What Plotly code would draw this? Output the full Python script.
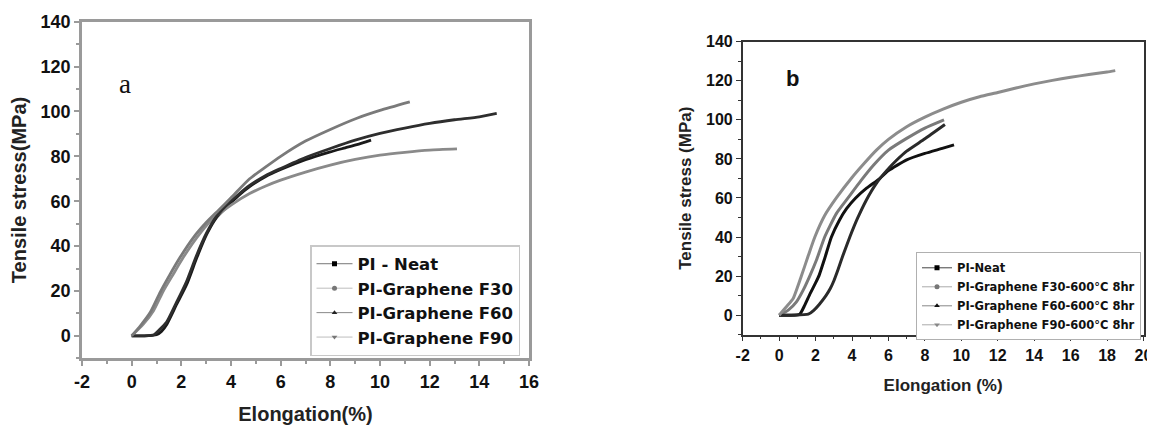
import plotly.graph_objects as go

# page is 1155x425; the HTML body adds an 8px margin, so the figure is sized to fit
PAGE_OFF = 8
W, H = 1155 - PAGE_OFF, 425 - PAGE_OFF

# ---------------- Panel a data ----------------
neat_a_x = [0, 0.5, 1.0, 1.2, 1.42, 1.82, 2.22, 2.63, 3.03, 3.43, 3.83, 4.3, 4.75, 5.4, 6.0, 7.0, 8.0, 8.6, 9.07, 9.64]
neat_a_y = [0, 0, 0.5, 2.0, 5.2, 14.2, 23.0, 35.0, 45.4, 52.9, 57.5, 62.5, 66.5, 71.0, 74.1, 78.5, 82.0, 83.8, 85.2, 87.2]

f30_a_x = [0, 0.47, 0.88, 1.28, 1.68, 2.08, 2.63, 3.16, 3.6, 4.03, 4.75, 5.4, 6.0, 7.0, 8.0, 9.0, 10.0, 11.0, 12.0, 13.1]
f30_a_y = [0, 5.2, 11.2, 20.1, 27.6, 35.0, 43.9, 51.0, 55.0, 58.5, 63.4, 66.8, 69.4, 73.0, 76.1, 78.6, 80.5, 81.8, 82.8, 83.3]

f60_a_x = [0, 0.5, 0.9, 1.1, 1.4, 1.8, 2.2, 2.6, 3.0, 3.4, 3.8, 4.3, 4.75, 5.4, 6.0, 7.0, 8.0, 9.0, 10.0, 11.0, 12.0, 13.0, 14.0, 14.7]
f60_a_y = [0, 0, 0.5, 2.5, 6.0, 14.8, 24.0, 35.5, 45.5, 53.0, 58.0, 63.0, 67.0, 71.5, 74.6, 79.5, 83.5, 87.2, 90.2, 92.6, 94.7, 96.3, 97.6, 99.1]

f90_a_x = [0, 0.35, 0.75, 1.15, 1.55, 1.95, 2.5, 3.0, 3.5, 4.0, 4.75, 5.4, 6.0, 7.0, 8.0, 9.07, 10.0, 11.2]
f90_a_y = [0, 4.5, 10.5, 19.5, 27.5, 35.0, 44.0, 50.5, 56.0, 61.5, 70.0, 75.3, 80.0, 86.8, 92.0, 97.0, 100.5, 104.3]

names_a = ["PI - Neat", "PI-Graphene F30", "PI-Graphene F60", "PI-Graphene F90"]

# ---------------- Panel b data ----------------
neat_b_x = [0, 0.6, 1.13, 1.4, 1.7, 2.0, 2.2, 2.5, 2.87, 3.3, 3.7, 4.2, 4.8, 5.5, 6.0, 7.0, 8.0, 9.0, 9.6]
neat_b_y = [0, 0, 0.5, 5.0, 11.0, 16.5, 20.5, 29.0, 40.0, 48.5, 54.5, 60.0, 65.0, 69.8, 74.0, 79.5, 82.8, 85.5, 87.2]

f30_b_x = [0, 0.5, 0.95, 1.32, 1.68, 2.05, 2.5, 3.14, 3.78, 4.5, 5.2, 6.0, 7.0, 8.0, 9.05]
f30_b_y = [0, 2.6, 6.8, 12.8, 20.0, 28.2, 40.0, 52.0, 60.0, 69.0, 77.0, 84.5, 90.5, 95.8, 100.0]

f60_b_x = [0, 0.8, 1.6, 1.9, 2.2, 2.57, 2.8, 3.0, 3.24, 3.5, 3.88, 4.3, 4.79, 5.3, 5.9, 6.5, 7.0, 8.0, 9.1]
f60_b_y = [0, 0, 0.5, 2.5, 5.5, 10.0, 13.5, 17.5, 23.5, 30.5, 40.0, 49.5, 59.0, 67.0, 74.0, 79.8, 84.0, 90.3, 97.6]

f90_b_x = [0, 0.4, 0.77, 1.22, 1.6, 1.96, 2.5, 3.14, 4.0, 4.6, 5.34, 6.0, 7.0, 8.0, 9.0, 10.0, 11.0, 12.0, 13.0, 14.0, 15.0, 16.0, 17.0, 18.0, 18.45]
f90_b_y = [0, 4.3, 8.5, 20.0, 30.5, 40.0, 51.0, 60.0, 70.5, 77.0, 84.5, 90.0, 96.5, 101.4, 105.5, 109.0, 111.8, 114.0, 116.3, 118.4, 120.2, 121.8, 123.2, 124.5, 125.2]

names_b = ["PI-Neat", "PI-Graphene F30-600°C 8hr", "PI-Graphene F60-600°C 8hr", "PI-Graphene F90-600°C 8hr"]

x_ticks_a = list(range(-2, 17, 2))
x_labels_a = [str(v) for v in x_ticks_a]
x_ticks_b = list(range(-2, 21, 2))
x_labels_b = [str(v) for v in x_ticks_b]
y_ticks = list(range(0, 141, 20))

SANS = "Liberation Sans, Arial, Helvetica, sans-serif"
WIDE = "DejaVu Sans, Verdana, sans-serif"

series_a = [
    (neat_a_x, neat_a_y, "#1a1a1a", "#777777", "#000000", "square"),
    (f30_a_x, f30_a_y, "#8a8a8a", "#bdbdbd", "#777777", "circle"),
    (f60_a_x, f60_a_y, "#2e2e2e", "#888888", "#222222", "triangle-up"),
    (f90_a_x, f90_a_y, "#7a7a7a", "#bdbdbd", "#777777", "triangle-down"),
]
series_b = [
    (neat_b_x, neat_b_y, "#111111", "#444444", "#000000", "square"),
    (f30_b_x, f30_b_y, "#7a7a7a", "#aaaaaa", "#777777", "circle"),
    (f60_b_x, f60_b_y, "#2a2a2a", "#888888", "#111111", "triangle-up"),
    (f90_b_x, f90_b_y, "#8c8c8c", "#aaaaaa", "#888888", "triangle-down"),
]

fig = go.Figure()

for (xs, ys, col, lcol, mcol, sym), nm in zip(series_a, names_a):
    fig.add_trace(go.Scatter(x=xs, y=ys, mode="lines", xaxis="x", yaxis="y",
                             line=dict(color=col, width=2.8, shape="spline", smoothing=0.6),
                             showlegend=False, hoverinfo="skip"))
for (xs, ys, col, lcol, mcol, sym), nm in zip(series_a, names_a):
    fig.add_trace(go.Scatter(x=[None], y=[None], mode="lines+markers", xaxis="x", yaxis="y",
                             name=nm, legend="legend",
                             line=dict(color=lcol, width=1),
                             marker=dict(symbol=sym, size=5, color=mcol)))

for (xs, ys, col, lcol, mcol, sym), nm in zip(series_b, names_b):
    fig.add_trace(go.Scatter(x=xs, y=ys, mode="lines", xaxis="x2", yaxis="y2",
                             line=dict(color=col, width=3, shape="spline", smoothing=0.5),
                             showlegend=False, hoverinfo="skip"))
for (xs, ys, col, lcol, mcol, sym), nm in zip(series_b, names_b):
    fig.add_trace(go.Scatter(x=[None], y=[None], mode="lines+markers", xaxis="x2", yaxis="y2",
                             name=nm, legend="legend2",
                             line=dict(color=lcol, width=1),
                             marker=dict(symbol=sym, size=5, color=mcol)))

def dx(p):
    return (p - PAGE_OFF) / W

def dy(p):
    return 1 - (p - PAGE_OFF) / H

axis_a = dict(showgrid=False, zeroline=False, showline=True, mirror=True, automargin=False,
              linecolor="#9a9a9a", linewidth=2.5, ticks="outside", ticklen=5,
              tickwidth=1.5, tickcolor="#9a9a9a",
              tickfont=dict(family=SANS, size=18, color="#111", weight="bold"))
axis_b = dict(showgrid=False, zeroline=False, showline=True, mirror=True, automargin=False,
              linecolor="#333333", linewidth=1.5, ticks="outside", ticklen=5,
              tickwidth=1.2, tickcolor="#333333",
              tickfont=dict(family=SANS, size=16, color="#111", weight="bold"))

fig.update_layout(
    template="none",
    width=W, height=H,
    margin=dict(l=0, r=0, t=0, b=0, pad=0),
    paper_bgcolor="white", plot_bgcolor="white",
    xaxis=dict(axis_a, domain=[dx(82), dx(529)], range=[-2, 16],
               tickvals=x_ticks_a, ticktext=x_labels_a,
               minor=dict(dtick=1, ticklen=3, tickcolor="#9a9a9a", ticks="outside"),
               anchor="y",
               title=dict(text="Elongation(%)", standoff=19,
                          font=dict(family=SANS, size=20, color="#222", weight="bold"))),
    yaxis=dict(axis_a, domain=[dy(358.3), dy(21.7)], range=[-10, 140], tickvals=y_ticks,
               minor=dict(dtick=10, ticklen=3, tickcolor="#9a9a9a", ticks="outside"),
               anchor="x",
               title=dict(text="Tensile stress(MPa)", standoff=10,
                          font=dict(family=SANS, size=20, color="#222", weight="bold"))),
    xaxis2=dict(axis_b, domain=[dx(742.7), dx(1143.5)], range=[-2, 20],
                tickvals=x_ticks_b, ticktext=x_labels_b,
                minor=dict(dtick=1, ticklen=3, tickcolor="#333", ticks="outside"),
                anchor="y2",
                title=dict(text="Elongation (%)", standoff=16,
                           font=dict(family=SANS, size=17, color="#222", weight="bold"))),
    yaxis2=dict(axis_b, domain=[dy(334.7), dy(41.7)], range=[-10, 140], tickvals=y_ticks,
                minor=dict(dtick=10, ticklen=3, tickcolor="#333", ticks="outside"),
                anchor="x2",
                title=dict(text="Tensile stress (MPa)", standoff=10,
                           font=dict(family=SANS, size=17, color="#222", weight="bold"))),
    legend=dict(x=dx(310), y=dy(245), xanchor="left", yanchor="top",
                bgcolor="white", bordercolor="#c8c8c8", borderwidth=1.5,
                font=dict(family=WIDE, size=16.5, color="#111", weight="bold"),
                tracegroupgap=0, itemwidth=36),
    legend2=dict(x=dx(916), y=dy(252.3), xanchor="left", yanchor="top",
                 bgcolor="white", bordercolor="#b0b0b0", borderwidth=1,
                 font=dict(family=WIDE, size=11.5, color="#111", weight="bold"),
                 tracegroupgap=0, itemwidth=30),
    annotations=[
        dict(text="a", xref="paper", yref="paper", x=dx(125), y=dy(84),
             xanchor="center", yanchor="middle", showarrow=False,
             font=dict(family="Liberation Serif, Times New Roman, serif", size=27, color="#111")),
        dict(text="b", xref="paper", yref="paper", x=dx(792), y=dy(78),
             xanchor="center", yanchor="middle", showarrow=False,
             font=dict(family=SANS, size=22, color="#111", weight="bold")),
    ],
)

fig.write_html("out.html")
